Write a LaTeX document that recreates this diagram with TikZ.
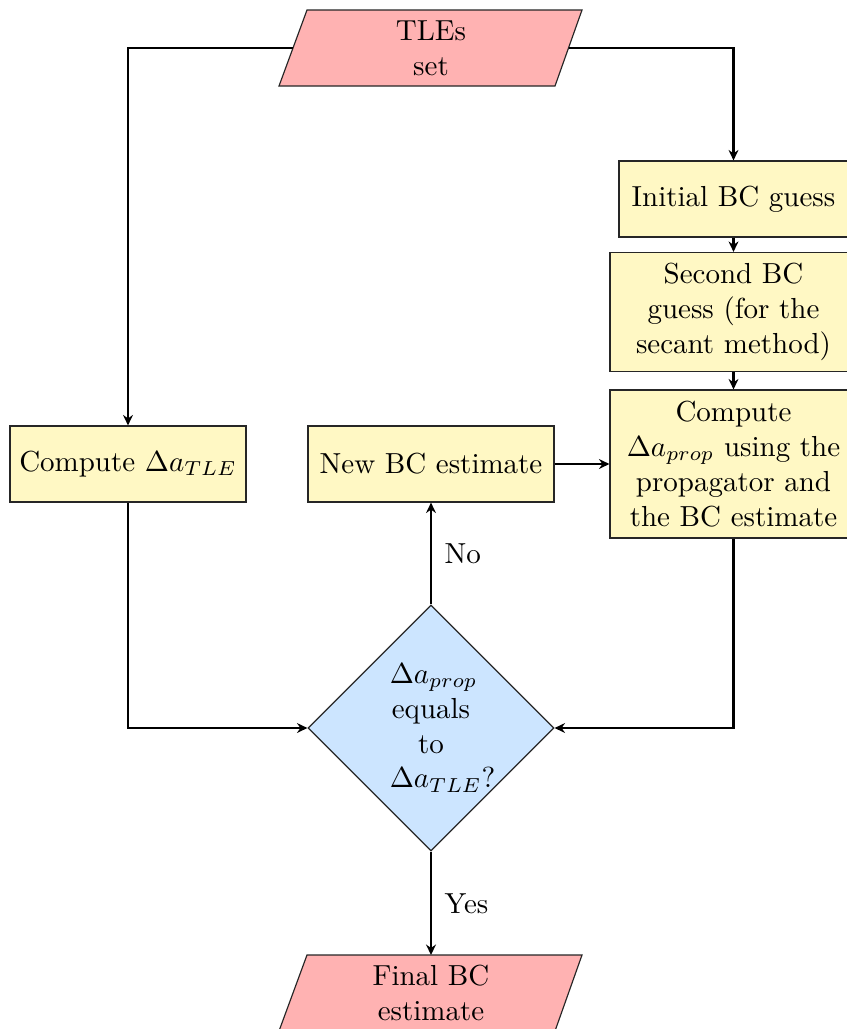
\documentclass[tikz,border=0pt]{standalone}
\usetikzlibrary{shapes.geometric,arrows.meta}
\newcommand{\pxu}{0.345pt}
\definecolor{boxyellow}{RGB}{255,248,196}
\definecolor{ioppink}{RGB}{255,178,178}
\definecolor{decblue}{RGB}{204,229,255}
\begin{document}
\begin{tikzpicture}[x=0.345pt,y=-0.345pt,
  procbox/.style={rectangle,draw=black!85,fill=boxyellow,align=center,inner sep=0pt,minimum height=76*\pxu},
  ioshape/.style={draw=black!85,fill=ioppink},
  iotext/.style={align=center,inner sep=0pt},
  decbox/.style={diamond,draw=black!85,fill=decblue,align=center,text width=1cm,inner sep=0pt,minimum width=246*\pxu,minimum height=246*\pxu},
  flow/.style={thick,-{Stealth[length=3.6pt,width=3.4pt]}}]
\useasboundingbox (0,0) rectangle (847,1029);
% input parallelogram
\path[ioshape] (279,86) -- (307,10) -- (582,10) -- (555,86) -- cycle;
\node[iotext] (tles) at (431,48) {TLEs\\set};
\coordinate (tlesL) at (293,48);
\coordinate (tlesR) at (568.5,48);
% output parallelogram
\path[ioshape] (279,1031) -- (307,955) -- (582,955) -- (555,1031) -- cycle;
\node[iotext] (final) at (431,993) {Final BC\\estimate};
\coordinate (finalT) at (431,955);
\node[procbox,minimum width=229*\pxu] (init) at (733.5,199) {Initial BC guess};
\node[procbox,minimum width=247*\pxu,minimum height=119*\pxu] (second) at (733.5,312) {Second BC\\guess (for the\\secant method)};
\node[procbox,minimum width=247*\pxu,minimum height=148*\pxu] (cprop) at (733.5,464) {Compute\\$\Delta a_{prop}$ using the\\propagator and\\the BC estimate};
\node[procbox,minimum width=236*\pxu] (ctle) at (128,464) {Compute $\Delta a_{TLE}$};
\node[procbox,minimum width=246*\pxu] (newbc) at (431,464) {New BC estimate};
\node[decbox] (dec) at (431,728) {$\Delta a_{prop}$\\equals\\to\\$\Delta a_{TLE}$?};
\draw[flow] (tlesL) -| (ctle.north);
\draw[flow] (tlesR) -| (init.north);
\draw[flow] (init.south) -- (second.north);
\draw[flow] (second.south) -- (cprop.north);
\draw[flow] (cprop.south) |- (dec.east);
\draw[flow] (ctle.south) |- (dec.west);
\draw[flow] (newbc.east) -- (cprop.west);
\draw[flow] (dec.north) -- node[right=1pt] {No} (newbc.south);
\draw[flow] (dec.south) -- node[right=1pt] {Yes} (finalT);
\end{tikzpicture}
\end{document}
